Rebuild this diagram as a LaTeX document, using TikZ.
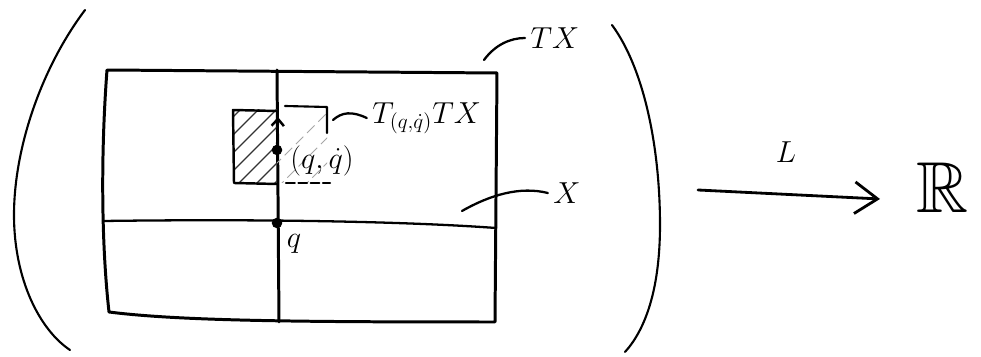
\documentclass[tikz,border=0pt]{standalone}
\usepackage{amsmath,amssymb}
\usetikzlibrary{arrows.meta}
\tikzset{
  pen/.style={line width=1.7pt, line cap=round, line join=round},
  paren/.style={line width=1.2pt, line cap=round},
  leader/.style={line width=1.3pt, line cap=round},
  hatch/.style={line width=0.7pt, black!80},
  lighthatch/.style={line width=0.6pt, black!35, dash pattern=on 6pt off 3pt},
  bigmath/.style={font=\fontsize{18}{22}\selectfont, inner sep=0pt},
  midmath/.style={font=\fontsize{17}{20}\selectfont, inner sep=0pt},
  dot/.style={circle, fill=black, inner sep=0pt, minimum size=6pt},
  maparrow/.style={line width=1.6pt, line cap=round,
    -{Straight Barb[length=13pt, width=18pt, line width=1.6pt]}},
  vecarrow/.style={line width=1.4pt, -{Straight Barb[length=4pt, width=7pt]}},
}
\begin{document}
\begin{tikzpicture}[x=0.02cm, y=-0.02cm]
  \useasboundingbox (0,0) rectangle (981,357);
  % brackets round the bundle
  \draw[paren] (85,10) .. controls (40,70) and (14,150) .. (14,215)
    .. controls (14,280) and (40,330) .. (70,350);
  \draw[paren] (612,25) .. controls (645,70) and (660,150) .. (660,225)
    .. controls (660,290) and (645,330) .. (625,352);
  % the bundle TX
  \coordinate (nw) at (107,70);
  \coordinate (ne) at (497,73);
  \coordinate (se) at (495,322);
  \coordinate (sw) at (109,312);
  \draw[pen] (nw) -- (ne) -- (se) .. controls (300,322) and (180,321) .. (sw)
    .. controls (101,240) and (101,150) .. (nw);
  % fibre over q and base X
  \coordinate (ftop) at (277,70);
  \coordinate (fbot) at (279,322);
  \draw[pen] (ftop) -- (fbot);
  \coordinate (xw) at (103,221);
  \coordinate (xe) at (496,228);
  \draw[pen, line width=1.3pt] (xw) .. controls (250,219) and (400,221) .. (xe);
  \node[dot] (q) at (277,223) {};
  \node[midmath] (qlab) at (294,244) {$q$};
  % tangent space at (q,qdot)
  \begin{scope}
    \clip (233,110) rectangle (277,183);
    \foreach \s in {150,168,...,262}
      \draw[hatch] (\s,200) -- ++(110,-110);
  \end{scope}
  \begin{scope}
    \clip (277,106) rectangle (327,183);
    \foreach \s in {240,265,...,320}
      \draw[lighthatch] (\s,200) -- ++(110,-110);
  \end{scope}
  \draw[pen, line width=1.4pt] (277,111) -- (233,110) -- (234,183) -- (277,184);
  \draw[pen, line width=1.2pt] (285,106) -- (327,107) -- (327,133);
  \draw[pen, line width=1.2pt, dash pattern=on 5pt off 2pt] (286,183) -- (330,183);
  \node[dot] (v) at (277,150) {};
  \coordinate (vtip) at (278,117);
  \draw[vecarrow] (v) -- (vtip);
  \node[midmath] (vlab) at (322,161) {$(q,\dot q)$};
  \node[midmath, anchor=west] (tlab) at (372,118) {$T_{(q,\dot q)}TX$};
  \coordinate (tpt) at (333,120);
  \draw[leader] (tpt) .. controls (342,112) and (352,111) .. ([xshift=-3pt]tlab.west);
  % labels with leaders
  \node[bigmath] (tx) at (555,38) {$TX$};
  \coordinate (txpt) at (484,60);
  \draw[leader] (txpt) .. controls (495,45) and (510,38) .. ([xshift=-3pt]tx.west);
  \node[bigmath] (xlab) at (567,193) {$X$};
  \coordinate (xpt) at (462,211);
  \draw[leader] (xpt) .. controls (490,195) and (520,186) .. ([xshift=-3pt]xlab.west);
  % the Lagrangian
  \coordinate (mapstart) at (698,190);
  \coordinate (mapend) at (880,199);
  \draw[maparrow] (mapstart) -- (mapend);
  \node[bigmath] (Llab) at (786,152) {$L$};
  \node[inner sep=0pt, scale=1.65, font=\Huge] (R) at (943,188) {$\mathbb{R}$};
\end{tikzpicture}
\end{document}
